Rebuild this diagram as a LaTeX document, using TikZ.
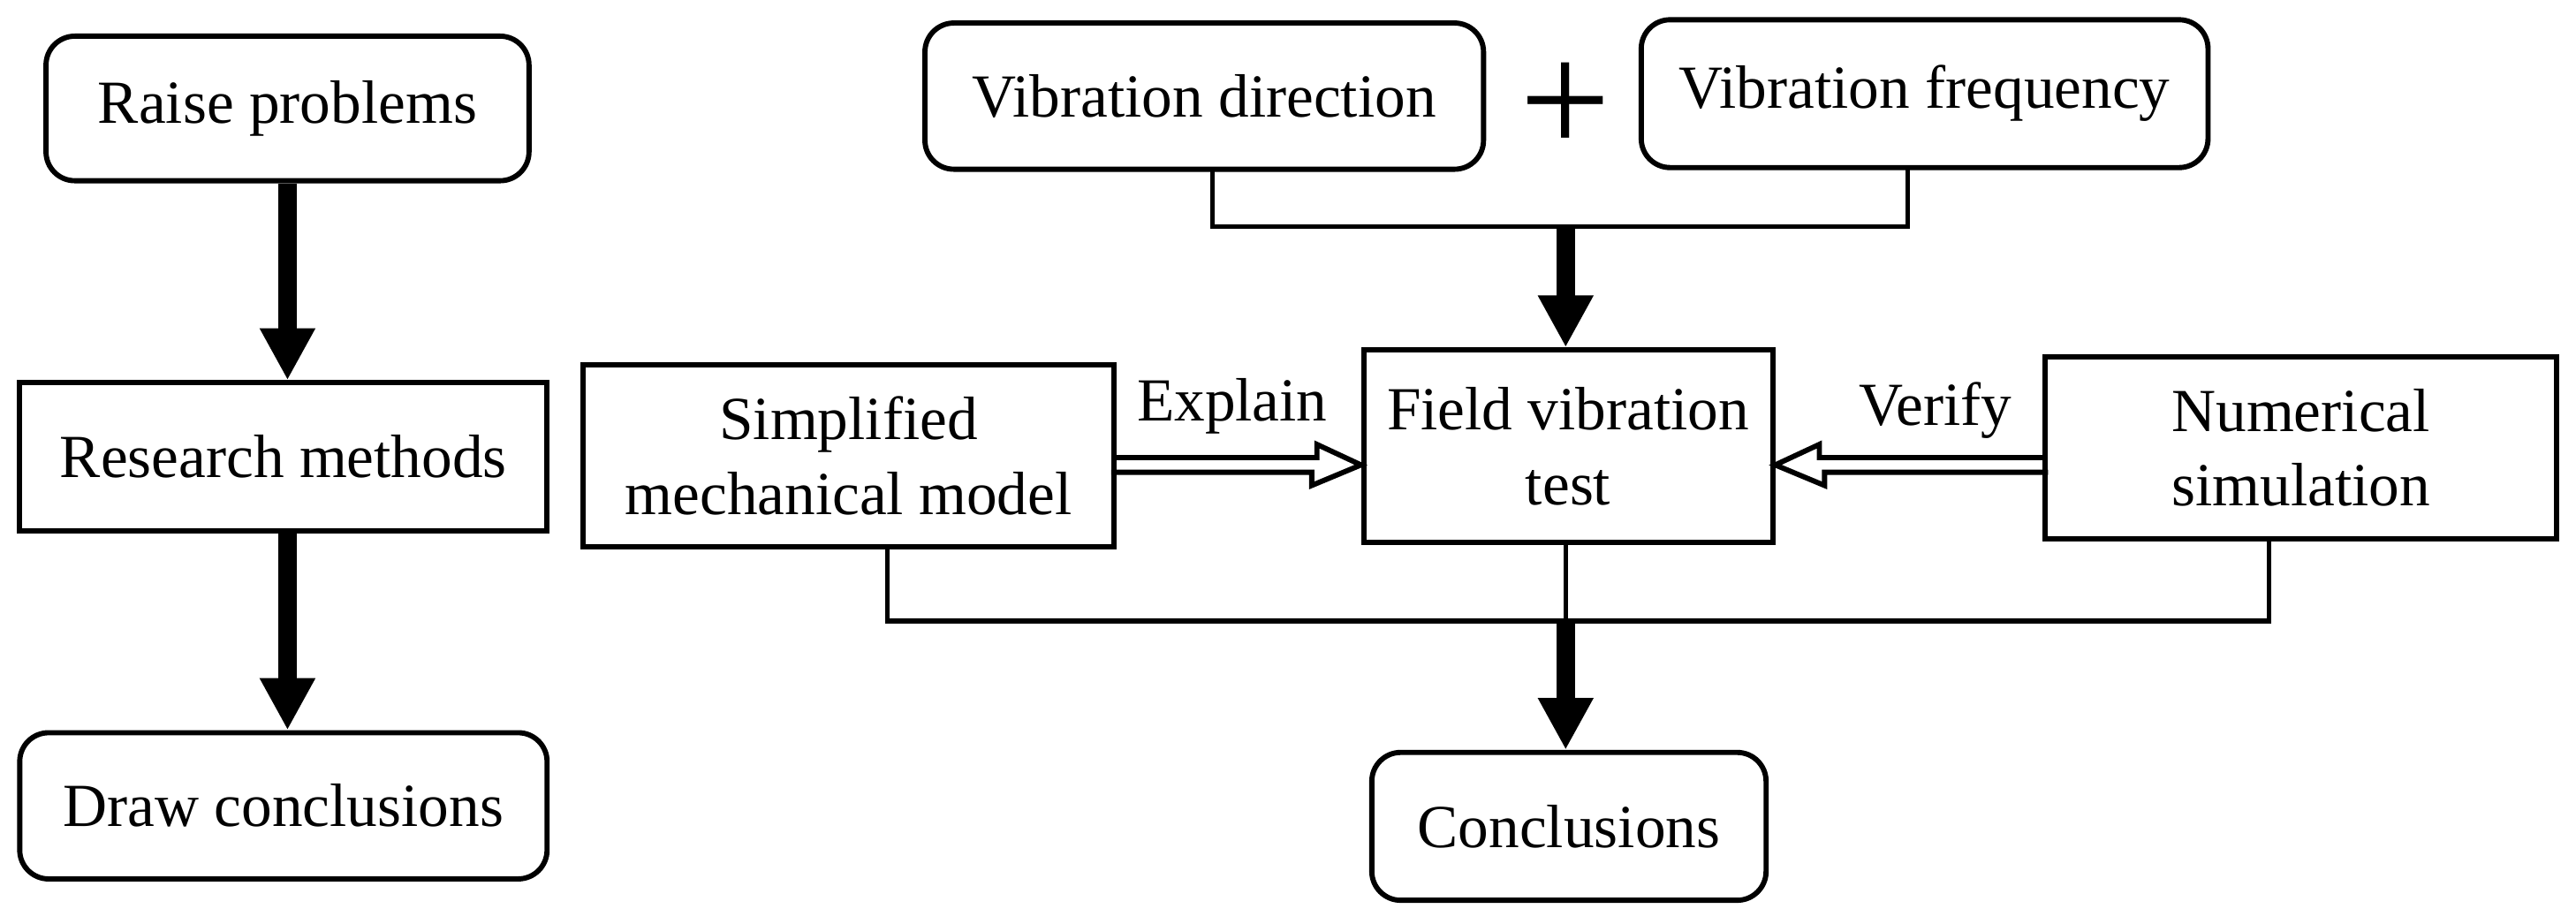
\documentclass[tikz,border=0pt]{standalone}
\usepackage{fontspec}
\setmainfont{Liberation Serif}
\usetikzlibrary{arrows.meta,calc}
\begin{document}
\begin{tikzpicture}[
  box/.style={draw,line width=0.9pt,inner sep=0pt,align=center,font=\fontsize{10.6}{13}\selectfont},
  rbox/.style={box,rounded corners=5pt},
  thick arrow/.style={line width=3.2pt,-{Triangle[width=9pt,length=9pt]}},
  line/.style={line width=0.8pt}]
\useasboundingbox (0,0) rectangle (15.68,-5.62);
% left column
\node[rbox,minimum width=2.94cm,minimum height=0.88cm] (rp) at (1.75,-0.66) {Raise problems};
\node[box,minimum width=3.21cm,minimum height=0.9cm] (rm) at (1.725,-2.78) {Research methods};
\node[rbox,minimum width=3.21cm,minimum height=0.89cm] (dc) at (1.725,-4.905) {Draw conclusions};
\draw[thick arrow] (rp.south) -- (rp.south|-rm.north);
\draw[thick arrow] (rp.south|-rm.south) -- (rp.south|-dc.north);
% top
\node[rbox,minimum width=3.4cm,minimum height=0.89cm] (vd) at (7.33,-0.585) {Vibration direction};
\node[rbox,minimum width=3.45cm,minimum height=0.9cm] (vf) at (11.715,-0.57) {Vibration frequency};
\node[font=\fontsize{28}{28}\selectfont] (plus) at (9.53,-0.66) {+};
\coordinate (tj) at (9.53,-1.38);
\draw[line] (7.38,-1.03) |- (tj) -| (11.61,-1.02);
% middle
\node[box,minimum width=3.23cm,minimum height=1.11cm] (sm) at (5.165,-2.775) {Simplified\\mechanical model};
\node[box,minimum width=2.49cm,minimum height=1.17cm] (fv) at (9.545,-2.715) {Field vibration\\test};
\node[box,minimum width=3.11cm,minimum height=1.11cm] (ns) at (14.005,-2.725) {Numerical\\simulation};
\draw[thick arrow] (tj) -- (tj|-fv.north);
% hollow arrows
\draw[line width=0.9pt] ($(sm.east|-0,-2.83)+(0,0.045)$) -- ++(1.22,0) -- ++(0,0.08) -- ($(fv.west|-0,-2.83)$) -- ++(-0.3,-0.125) -- ++(0,0.08) -- ++(-1.22,0);
\node[font=\fontsize{10.6}{13}\selectfont] (ex) at (7.5,-2.47) {Explain};
\draw[line width=0.9pt] ($(ns.west|-0,-2.83)+(0,0.045)$) -- ++(-1.36,0) -- ++(0,0.08) -- ($(fv.east|-0,-2.83)$) -- ++(0.3,-0.125) -- ++(0,0.08) -- ++(1.36,0);
\node[font=\fontsize{10.6}{13}\selectfont] (ve) at (11.78,-2.5) {Verify};
% bottom
\coordinate (bj) at (9.53,-3.78);
\draw[line] (5.40,-3.33) |- (13.81,-3.78) -- (13.81,-3.28);
\draw[line] (9.53,-3.30) -- (bj);
\node[rbox,minimum width=2.4cm,minimum height=0.9cm] (co) at (9.55,-5.03) {Conclusions};
\draw[thick arrow] (bj) -- (bj|-co.north);
\end{tikzpicture}
\end{document}
